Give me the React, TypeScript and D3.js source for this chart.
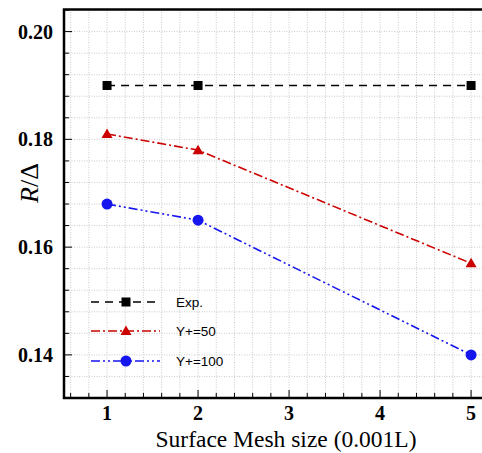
import React from 'react';
import * as d3 from 'd3';

// data
const meshSizes = [1, 2, 5];
const expValues = [0.19, 0.19, 0.19];
const yPlus50 = [0.181, 0.178, 0.157];
const yPlus100 = [0.168, 0.165, 0.14];
const xTicks = [1, 2, 3, 4, 5];
const yTicks = [0.14, 0.16, 0.18, 0.2];
const legendLabels = ['Exp.', 'Y+=50', 'Y+=100'];

const W = 482;
const H = 453;
const left = 64;
const top = 9.5;
const bottom = 398;
const right = 482;

const serif = "'Liberation Serif', 'Times New Roman', serif";

function App() {
  const x = d3.scaleLinear().domain([0.527, 5.12]).range([left, right]);
  const y = d3.scaleLinear().domain([0.132, 0.2041]).range([bottom, top]);

  const line = d3
    .line<number>()
    .x((_, i) => x(meshSizes[i]))
    .y((d) => y(d));

  const xMinor = d3.range(0.6, 5.11, 0.2);
  const yMinor = d3.range(0.132, 0.2041, 0.004);

  const series = [
    { name: legendLabels[0], values: expValues, color: '#000000', dash: '8,6', marker: 'square' },
    { name: legendLabels[1], values: yPlus50, color: '#cc0000', dash: '9,3,2,3', marker: 'triangle' },
    { name: legendLabels[2], values: yPlus100, color: '#1515ee', dash: '9,3,2,3,2,3', marker: 'circle' },
  ];

  const marker = (kind: string, cx: number, cy: number, color: string, key: string) => {
    if (kind === 'square')
      return <rect key={key} x={cx - 4.5} y={cy - 4.5} width={9} height={9} fill={color} />;
    if (kind === 'triangle')
      return (
        <path
          key={key}
          d={`M${cx},${cy - 5.5}L${cx + 5.5},${cy + 4}L${cx - 5.5},${cy + 4}Z`}
          fill={color}
        />
      );
    return <circle key={key} cx={cx} cy={cy} r={5.5} fill={color} />;
  };

  const legendY = [302, 331, 361];

  return (
    <svg width={W} height={H} style={{ display: 'block', position: 'absolute', left: 0, top: 0 }}>
      <rect width={W} height={H} fill="#fff" />
      {/* grid */}
      <g stroke="#bdbdbd" strokeWidth={0.8} strokeDasharray="1,1.5">
        {xMinor.map((v) => (
          <line key={'gx' + v} x1={x(v)} x2={x(v)} y1={top} y2={bottom} />
        ))}
        {yMinor.map((v) => (
          <line key={'gy' + v} x1={left} x2={right} y1={y(v)} y2={y(v)} />
        ))}
      </g>
      {/* ticks */}
      <g stroke="#000" strokeWidth={1}>
        {xMinor.map((v) => {
          const major = Math.abs(v - Math.round(v)) < 1e-6;
          return <line key={'tx' + v} x1={x(v)} x2={x(v)} y1={bottom} y2={bottom - (major ? 8 : 5)} />;
        })}
        {yMinor.map((v) => {
          const major = Math.abs(v * 50 - Math.round(v * 50)) < 1e-6;
          return <line key={'ty' + v} x1={left} x2={left + (major ? 8 : 5)} y1={y(v)} y2={y(v)} />;
        })}
      </g>
      {/* axes frame */}
      <path d={`M${right},${top}H${left}V${bottom}H${right}`} fill="none" stroke="#000" strokeWidth={2.5} />
      {/* tick labels */}
      <g fontFamily={serif} fontWeight="bold" fontSize={20} fill="#000">
        {xTicks.map((v) => (
          <text key={'xl' + v} x={x(v)} y={420} textAnchor="middle">
            {v}
          </text>
        ))}
        {yTicks.map((v) => (
          <text key={'yl' + v} x={53} y={y(v) + 7} textAnchor="end">
            {v.toFixed(2)}
          </text>
        ))}
      </g>
      <text x={286} y={447} textAnchor="middle" fontFamily={serif} fontSize={23.5}>
        Surface Mesh size (0.001L)
      </text>
      <text transform="translate(38,183) rotate(-90)" textAnchor="middle" fontFamily={serif} fontSize={26}>
        <tspan fontStyle="italic">R</tspan>
        <tspan>/Δ</tspan>
      </text>
      {/* series */}
      {series.map((s) => (
        <g key={s.name}>
          <path d={line(s.values) || ''} fill="none" stroke={s.color} strokeWidth={1.6} strokeDasharray={s.dash} />
          {s.values.map((v, i) => marker(s.marker, x(meshSizes[i]), y(v), s.color, s.name + i))}
        </g>
      ))}
      {/* legend */}
      {series.map((s, i) => (
        <g key={'lg' + s.name}>
          <line
            x1={91}
            x2={160}
            y1={legendY[i]}
            y2={legendY[i]}
            stroke={s.color}
            strokeWidth={1.6}
            strokeDasharray={s.dash}
          />
          {marker(s.marker, 126, legendY[i], s.color, 'lm' + i)}
          <text
            x={176}
            y={legendY[i] + 5}
            fontFamily="'Liberation Sans', Arial, sans-serif"
            fontSize={13.5}
            fill="#000"
          >
            {s.name}
          </text>
        </g>
      ))}
    </svg>
  );
}

export default App;
